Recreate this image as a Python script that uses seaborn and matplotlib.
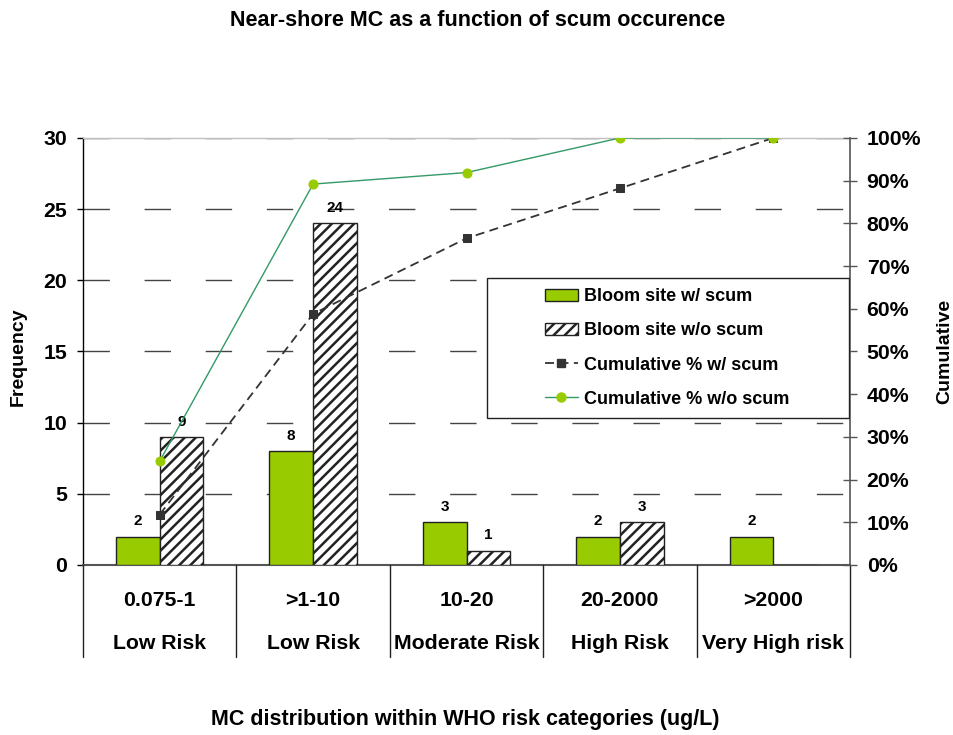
import numpy as np
import pandas as pd
import matplotlib
matplotlib.use('Agg')
import matplotlib.pyplot as plt
import seaborn as sns
from matplotlib.patches import Patch, Rectangle
from matplotlib.lines import Line2D
import matplotlib.transforms as mtransforms

categories = ['0.075-1', '>1-10', '10-20', '20-2000', '>2000']
risk_labels = ['Low Risk', 'Low Risk', 'Moderate Risk', 'High Risk', 'Very High risk']
series_names = ['Bloom site w/ scum', 'Bloom site w/o scum']
with_scum = [2, 8, 3, 2, 2]
without_scum = [9, 24, 1, 3, 0]
cum_with_scum = [11.8, 58.8, 76.5, 88.2, 100.0]
cum_without_scum = [24.3, 89.2, 91.9, 100.0, 100.0]
left_ticks = [0, 5, 10, 15, 20, 25, 30]
right_ticks = [0, 10, 20, 30, 40, 50, 60, 70, 80, 90, 100]

GREEN = '#99CC00'
LINE_GREEN = '#339966'
DARK = '#333333'
FS = 15.3

sns.set_theme(style='white')
plt.rcParams['font.family'] = ['Liberation Sans', 'DejaVu Sans']
plt.rcParams['font.weight'] = 'bold'
plt.rcParams['text.color'] = 'black'
plt.rcParams['axes.labelcolor'] = 'black'
plt.rcParams['xtick.color'] = 'black'
plt.rcParams['ytick.color'] = 'black'
plt.rcParams['hatch.linewidth'] = 1.8
plt.rcParams['hatch.color'] = 'black'

fig = plt.figure(figsize=(9.54, 7.35), dpi=100)
ax = fig.add_axes([0.0870, 0.2313, 0.8040, 0.5810])

df = pd.DataFrame({
    'category': categories * 2,
    'series': [series_names[0]] * len(categories) + [series_names[1]] * len(categories),
    'value': with_scum + without_scum,
})

sns.barplot(data=df, x='category', y='value', hue='series', order=categories,
            hue_order=series_names, palette=[GREEN, 'white'], saturation=1,
            width=0.57, edgecolor='#222222', linewidth=1, ax=ax, legend=False,
            zorder=3)

for bar in ax.containers[1]:
    bar.set_hatch('///')

for cont, vals in zip(ax.containers, [with_scum, without_scum]):
    ax.bar_label(cont, labels=[str(v) if v else '' for v in vals], padding=6,
                 fontsize=11, fontweight='bold', color='black')

ax.set_xlim(-0.5, len(categories) - 0.5)
ax.set_ylim(0, 30)
ax.set_yticks(left_ticks)
ax.set_xticks([])
ax.set_xlabel('')
ax.set_ylabel('')
ax.set_axisbelow(True)
ax.yaxis.grid(True, color='#444444', linestyle=(0, (19, 25)), linewidth=1)
ax.tick_params(axis='y', direction='out', length=4.3, width=1, color='black',
               pad=7, labelsize=FS, left=True, labelcolor='black')
for lab in ax.get_yticklabels():
    lab.set_fontweight('bold')

ax.spines['left'].set_color('black')
ax.spines['left'].set_linewidth(1)
ax.spines['bottom'].set_color('#555555')
ax.spines['bottom'].set_linewidth(1.5)
ax.spines['top'].set_color('#c0c0c0')
ax.spines['top'].set_linewidth(1)
ax.spines['right'].set_visible(False)

trans = mtransforms.blended_transform_factory(ax.transData, ax.transAxes)
for i, (c, r) in enumerate(zip(categories, risk_labels)):
    ax.text(i, -0.0843, c, transform=trans, ha='center', va='center',
            fontsize=FS, fontweight='bold', color='black')
    ax.text(i, -0.1827, r, transform=trans, ha='center', va='center',
            fontsize=FS, fontweight='bold', color='black')
for xb in np.arange(len(categories) + 1) - 0.5:
    ax.plot([xb, xb], [0, -0.2155], transform=trans, clip_on=False,
            color='#222222', lw=1, zorder=4)

ax2 = ax.twinx()
positions = np.arange(len(categories))
sns.lineplot(x=positions, y=cum_with_scum, ax=ax2, color=DARK,
             linestyle=(0, (5, 3)), linewidth=1.3, marker='s', markersize=6,
             markeredgecolor=DARK, markerfacecolor=DARK)
sns.lineplot(x=positions, y=cum_without_scum, ax=ax2, color=LINE_GREEN,
             linewidth=1, marker='o', markersize=6.5,
             markeredgecolor=GREEN, markerfacecolor=GREEN)
ax2.set_ylim(0, 100)
ax2.set_xlim(-0.5, len(categories) - 0.5)
ax2.set_yticks(right_ticks)
ax2.set_yticklabels([f'{t}%' for t in right_ticks])
ax2.tick_params(axis='y', direction='inout', length=10, width=1, color='#555555',
                pad=7, labelsize=FS, right=True, labelcolor='black')
for lab in ax2.get_yticklabels():
    lab.set_fontweight('bold')
for s in ['left', 'top', 'bottom']:
    ax2.spines[s].set_visible(False)
ax2.spines['right'].set_color('#555555')
ax2.spines['right'].set_linewidth(1.2)
ax2.set_xlabel('')
ax2.set_ylabel('')

# legend
ax2.add_patch(Rectangle((0.527, 0.344), 0.472, 0.328, transform=ax2.transAxes,
                        facecolor='white', edgecolor='#222222', lw=1, zorder=5))
handles = [
    Patch(facecolor=GREEN, edgecolor='#222222', lw=1),
    Patch(facecolor='white', edgecolor='#222222', lw=1, hatch='///'),
    Line2D([0], [0], color=DARK, linestyle=(0, (5, 3)), lw=1.3, marker='s',
           markersize=6, markerfacecolor=DARK, markeredgecolor=DARK),
    Line2D([0], [0], color=LINE_GREEN, lw=1, marker='o', markersize=6.5,
           markerfacecolor=GREEN, markeredgecolor=GREEN),
]
labels = series_names + ['Cumulative % w/ scum', 'Cumulative % w/o scum']
leg = ax2.legend(handles, labels, loc='center left', bbox_to_anchor=(0.602, 0.508),
                 frameon=False, handlelength=1.85, handleheight=0.7,
                 handletextpad=0.3, labelspacing=0.95, borderpad=0,
                 borderaxespad=0, prop={'weight': 'bold', 'size': 13})
for t in leg.get_texts():
    t.set_color('black')
leg.set_zorder(6)

fig.text(0.5005, 1 - 20 / 735, 'Near-shore MC as a function of scum occurence',
         ha='center', va='center', fontsize=15.5, fontweight='bold', color='black')
fig.text(0.488, 1 - 720 / 735, 'MC distribution within WHO risk categories (ug/L)',
         ha='center', va='center', fontsize=15.5, fontweight='bold', color='black')
fig.text(0.0189, 1 - 357 / 735, 'Frequency', rotation=90, ha='center', va='center',
         fontsize=14, fontweight='bold', color='black')
fig.text(0.9906, 1 - 351 / 735, 'Cumulative', rotation=90, ha='center', va='center',
         fontsize=14, fontweight='bold', color='black')

fig.savefig('out.png', dpi=100)
